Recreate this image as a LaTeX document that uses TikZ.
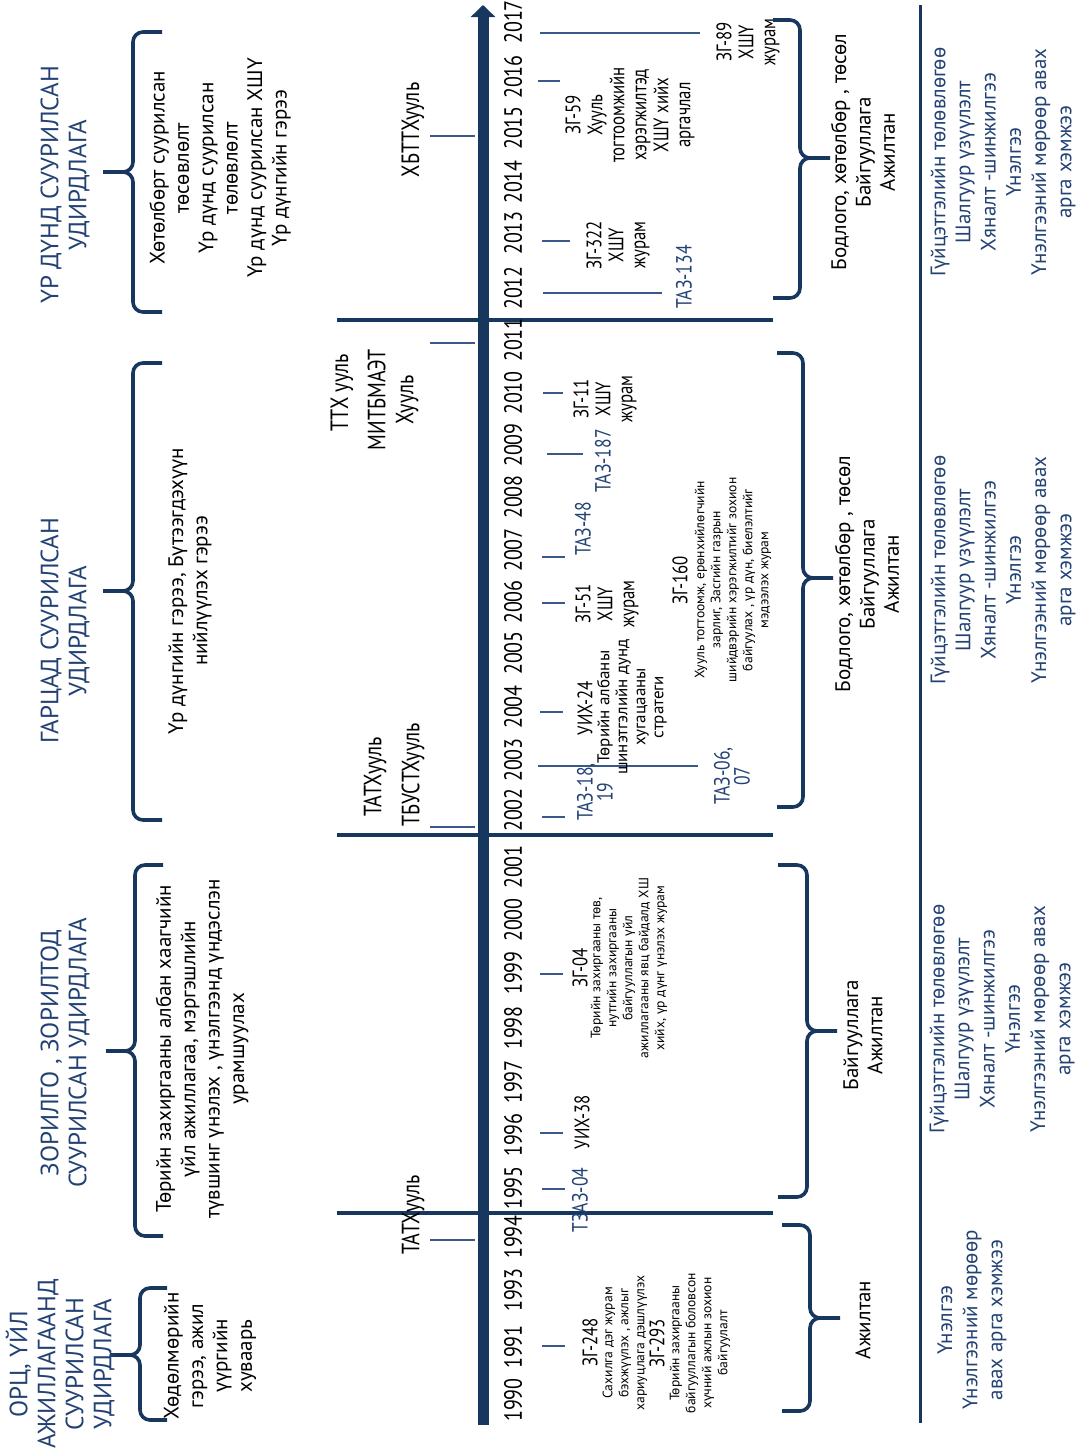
\documentclass[tikz,border=0pt]{standalone}
\usepackage{fontspec}
\setmainfont{PT Sans}
\newfontfamily\condfont[FakeStretch=0.8]{PT Sans}
\usetikzlibrary{arrows.meta}

\definecolor{navy}{RGB}{23,55,94}
\definecolor{tickblue}{RGB}{58,88,138}
\definecolor{txtblue}{RGB}{35,66,116}

\tikzset{
  rot/.style={rotate=90, inner sep=0pt, align=center},
  yearlbl/.style={rot, font=\condfont\fontsize{12.5}{14}\selectfont},
  lawlbl/.style={rot, font=\condfont\fontsize{12.5}{14}\selectfont},
  doclbl/.style={rot, font=\condfont\fontsize{10.5}{11}\selectfont},
  reflbl/.style={rot, text=txtblue, font=\condfont\fontsize{11}{10}\selectfont},
  notelbl/.style={rot, font=\fontsize{6.8}{8}\selectfont},
  midlbl/.style={rot, font=\fontsize{8.5}{9}\selectfont},
  headlbl/.style={rot, text=txtblue, font=\fontsize{12.5}{14}\selectfont},
  desclbl/.style={rot, font=\fontsize{10.5}{12.2}\selectfont},
  evallbl/.style={rot, text=txtblue, font=\fontsize{10.5}{12.6}\selectfont},
  tickln/.style={tickblue, line width=1pt},
  divln/.style={navy, line width=2pt},
  brc/.style={navy, line width=1.8pt, rounded corners=5pt},
}

\begin{document}
\begin{tikzpicture}[x=0.5pt, y=-0.5pt]
    \useasboundingbox (0,0) rectangle (1078,1451);

    % Axis
    \coordinate (ax0) at (483,1425);
    \coordinate (ax1) at (483,5);
    \draw[navy, line width=5.5pt, -{Triangle[width=12pt,length=6pt]}] (ax0) -- (ax1);

    % Period dividers
    \draw[divln] (337,320) -- (773,320);
    \draw[divln] (337,835) -- (773,835);
    \draw[divln] (337,1213) -- (773,1213);
    \draw[navy, line width=1.5pt] (920,5) -- (920,1423);

    % Years
    \foreach \yr/\yy in {1990/1400, 1991/1347, 1993/1290, 1994/1237, 1995/1188,
        1996/1135, 1997/1082, 1998/1028, 1999/973, 2000/920, 2001/867,
        2002/810, 2003/760, 2004/707, 2005/653, 2006/602, 2007/550,
        2008/497, 2009/445, 2010/393, 2011/340, 2012/288, 2013/233,
        2014/182, 2015/128, 2016/77, 2017/22}
        \node[yearlbl] (y\yr) at (513,\yy) {\yr};

    % Ticks
    \foreach \yy/\xa/\xb in {1346/542/565, 1189/542/565, 1133/540/563, 974/540/563,
        817/542/565, 766/538/698, 712/540/563, 603/542/565, 557/542/565,
        454/547/583, 393/543/563, 293/543/662, 241/542/570, 81/538/560,
        33/540/700}
        \draw[tickln] (\xa,\yy) -- (\xb,\yy);
    \foreach \yy in {136,343,827,1240}
        \draw[tickln] (430,\yy) -- (475,\yy);

    % Laws
    \node[lawlbl] (xbtt) at (413,130) {ХБТТХууль};
    \node[lawlbl] (ttx) at (342,393) {ТТХ ууль};
    \node[lawlbl] (mitb) at (393,400) {МИТБМАЭТ\\Хууль};
    \node[lawlbl] (tatx2) at (375,777) {ТАТХууль};
    \node[lawlbl] (tbust) at (413,775) {ТБУСТХууль};
    \node[lawlbl] (tatx1) at (413,1215) {ТАТХууль};

    % Documents 1990-2001
    \node[doclbl] (zg248) at (590,1342) {ЗГ-248};
    \node[notelbl] (n248) at (625,1343) {Сахилга дэг журам\\бэхжүүлэх , ажлыг\\хариуцлага дэшлүүлэх};
    \node[doclbl] (zg293) at (657,1343) {ЗГ-293};
    \node[notelbl] (n293) at (700,1343) {Төрийн захиргааны\\байгууллагын боловсон\\хүчний ажлын зохион\\байгуулалт};
    \node[reflbl] (tzaz04) at (580,1200) {ТЗАЗ-04};
    \node[doclbl] (uix38) at (582,1122) {УИХ-38};
    \node[doclbl] (zg04) at (580,968) {ЗГ-04};
    \node[notelbl] (n04) at (629,968) {Төрийн захиргааны төв,\\нутгийн захиргааны\\байгууллагын үйл\\ажиллагааны явц байдалд ХШ\\хийх, үр дүнг үнэлэх журам};

    % Documents 2002-2011
    \node[reflbl] (taz18) at (595,792) {ТАЗ-18,\\19};
    \node[doclbl] (uix24) at (585,708) {УИХ-24};
    \node[midlbl] (n24) at (632,707) {Төрийн албаны\\шинэтгэлийн дунд\\хугацааны\\стратеги};
    \node[doclbl] (zg51) at (607,604) {ЗГ-51\\ХШҮ\\журам};
    \node[reflbl] (taz48) at (583,529) {ТАЗ-48};
    \node[reflbl] (taz187) at (603,461) {ТАЗ-187};
    \node[doclbl] (zg11) at (605,399) {ЗГ-11\\ХШҮ\\журам};
    \node[doclbl] (zg160) at (680,580) {ЗГ-160};
    \node[notelbl] (n160) at (733,580) {Хууль тогтоомж, ерөнхийлөгчийн\\зарлиг, Засгийн газрын\\шийдвэрийн хэрэгжилтийг зохион\\байгуулах , үр дүн, биелэлтийг\\мэдээлэх журам};
    \node[reflbl] (taz06) at (732,776) {ТАЗ-06,\\07};

    % Documents 2012-2017
    \node[doclbl] (zg322) at (618,245) {ЗГ-322\\ХШҮ\\журам};
    \node[reflbl] (taz134) at (684,277) {ТАЗ-134};
    \node[doclbl] (zg59) at (630,115) {ЗГ-59\\Хууль\\тогтоомжийн\\хэрэгжилтэд\\ХШҮ хийх\\аргачлал};
    \node[doclbl] (zg89) at (748,42) {ЗГ-89\\ХШҮ\\журам};

    % Braces
    \foreach \a/\v/\t/\ya/\ym/\yb in {773/800/830/20/158/298, 777/803/833/353/578/807,
        778/807/837/865/1031/1197, 782/810/840/1225/1318/1411,
        162/133/103/32/172/312, 162/133/103/363/591/820,
        163/135/106/865/1051/1236, 167/140/110/1288/1355/1420}
        \draw[brc] (\a,\ya) -- (\v,\ya) -- (\v,\ym) -- (\t,\ym)
                   (\a,\yb) -- (\v,\yb) -- (\v,\ym) -- (\t,\ym);

    % Levels
    \node[desclbl] (lv4) at (863,152) {Бодлого, хөтөлбөр , төсөл\\Байгууллага\\Ажилтан};
    \node[desclbl] (lv3) at (867,574) {Бодлого, хөтөлбөр , төсөл\\Байгууллага\\Ажилтан};
    \node[desclbl] (lv2) at (863,1035) {Байгууллага\\Ажилтан};
    \node[desclbl] (lv1) at (863,1320) {Ажилтан};

    % Evaluation
    \node[evallbl] (ev4) at (1003,162) {Гүйцэтгэлийн төлөвлөгөө\\Шалгуур үзүүлэлт\\Хяналт -шинжилгээ\\Үнэлгээ\\Үнэлгээний мөрөөр  авах\\арга хэмжээ};
    \node[evallbl] (ev3) at (1003,570) {Гүйцэтгэлийн төлөвлөгөө\\Шалгуур үзүүлэлт\\Хяналт -шинжилгээ\\Үнэлгээ\\Үнэлгээний мөрөөр  авах\\арга хэмжээ};
    \node[evallbl] (ev2) at (1002,1019) {Гүйцэтгэлийн төлөвлөгөө\\Шалгуур үзүүлэлт\\Хяналт -шинжилгээ\\Үнэлгээ\\Үнэлгээний мөрөөр  авах\\арга хэмжээ};
    \node[evallbl] (ev1) at (972,1320) {Үнэлгээ\\Үнэлгээний мөрөөр\\авах арга хэмжээ};

    % Management types
    \node[headlbl] (h4) at (65,185) {ҮР ДҮНД СУУРИЛСАН\\УДИРДЛАГА};
    \node[headlbl] (h3) at (65,631) {ГАРЦАД  СУУРИЛСАН\\УДИРДЛАГА};
    \node[headlbl] (h2) at (65,1053) {ЗОРИЛГО , ЗОРИЛТОД\\СУУРИЛСАН  УДИРДЛАГА};
    \node[headlbl] (h1) at (60,1364) {ОРЦ, ҮЙЛ\\АЖИЛЛАГААНД\\СУУРИЛСАН\\УДИРДЛАГА};

    \node[desclbl] (d4) at (220,168) {Хөтөлбөрт  суурилсан\\төсөвлөлт\\Үр дүнд суурилсан\\төлөвлөлт\\Үр дүнд суурилсан  ХШҮ\\Үр дүнгийн гэрээ};
    \node[desclbl] (d3) at (190,591) {Үр дүнгийн гэрээ, Бүтээгдэхүүн\\нийлүүлэх  гэрээ};
    \node[desclbl] (d2) at (202,1049) {Төрийн захиргааны албан хаагчийн\\үйл ажиллагаа, мэргэшлийн\\түвшинг үнэлэх , үнэлгээнд үндэслэн\\урамшуулах};
    \node[desclbl] (d1) at (210,1356) {Хөдөлмөрийн\\гэрээ, ажил\\үүргийн\\хуваарь};
\end{tikzpicture}
\end{document}
